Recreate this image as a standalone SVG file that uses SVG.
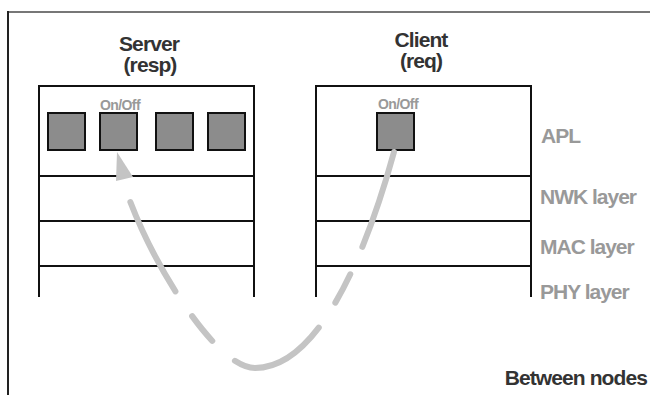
<svg xmlns="http://www.w3.org/2000/svg" width="650" height="395" viewBox="0 0 650 395">
  <style>
    .head { font-family: "Liberation Sans", Arial, sans-serif; font-weight: bold; font-size: 21px; fill: #333; text-anchor: middle; letter-spacing: -0.9px; }
    .layer { font-family: "Liberation Sans", Arial, sans-serif; font-weight: bold; font-size: 21px; fill: #999; letter-spacing: -1px; }
    .onoff { font-family: "Liberation Sans", Arial, sans-serif; font-weight: bold; font-size: 14px; fill: #999; text-anchor: middle; letter-spacing: -0.6px; }
    .stack { fill: none; stroke: #111; stroke-width: 2; }
    .obj { fill: #8c8c8c; stroke: #111; stroke-width: 2; }
  </style>
  <rect x="0" y="0" width="650" height="395" fill="#fff"/>
  <g id="frame">
    <line x1="8" y1="12" x2="650" y2="12" stroke="#777" stroke-width="2"/>
    <line x1="8" y1="11" x2="8" y2="395" stroke="#222" stroke-width="2"/>
  </g>
  <g id="server">
    <text class="head" x="149" y="51">Server</text>
    <text class="head" x="150" y="72">(resp)</text>
    <path class="stack" d="M39,297 V86 H254 V297 M39,176 H254 M39,221 H254 M39,266 H254"/>
    <text class="onoff" x="120" y="110">On/Off</text>
    <rect class="obj" x="48" y="113" width="37" height="37"/>
    <rect class="obj" x="100" y="113" width="37" height="37"/>
    <rect class="obj" x="156" y="113" width="37" height="37"/>
    <rect class="obj" x="208" y="113" width="37" height="37"/>
  </g>
  <g id="client">
    <text class="head" x="421" y="47">Client</text>
    <text class="head" x="421" y="68">(req)</text>
    <path class="stack" d="M316,297 V86 H531 V297 M316,176 H531 M316,221 H531 M316,266 H531"/>
    <text class="onoff" x="398" y="109">On/Off</text>
    <rect class="obj" x="377" y="113" width="37" height="37"/>
  </g>
  <g id="layers">
    <text class="layer" x="541" y="143">APL</text>
    <text class="layer" x="540" y="204">NWK layer</text>
    <text class="layer" x="540" y="254">MAC layer</text>
    <text class="layer" x="540" y="299">PHY layer</text>
  </g>
  <g id="note">
    <text class="head" x="647" y="385" style="text-anchor:end">Between nodes</text>
  </g>
  <g id="connectors">
    <path d="M394,152 C378,210 330,368 255,368 C215,368 150,260 126,190" fill="none" stroke="#c4c4c4" stroke-width="6" stroke-linecap="round" stroke-dasharray="100 30 32 30"/>
    <polygon points="117,152 116,181 133,177" fill="#c4c4c4"/>
  </g>
</svg>
